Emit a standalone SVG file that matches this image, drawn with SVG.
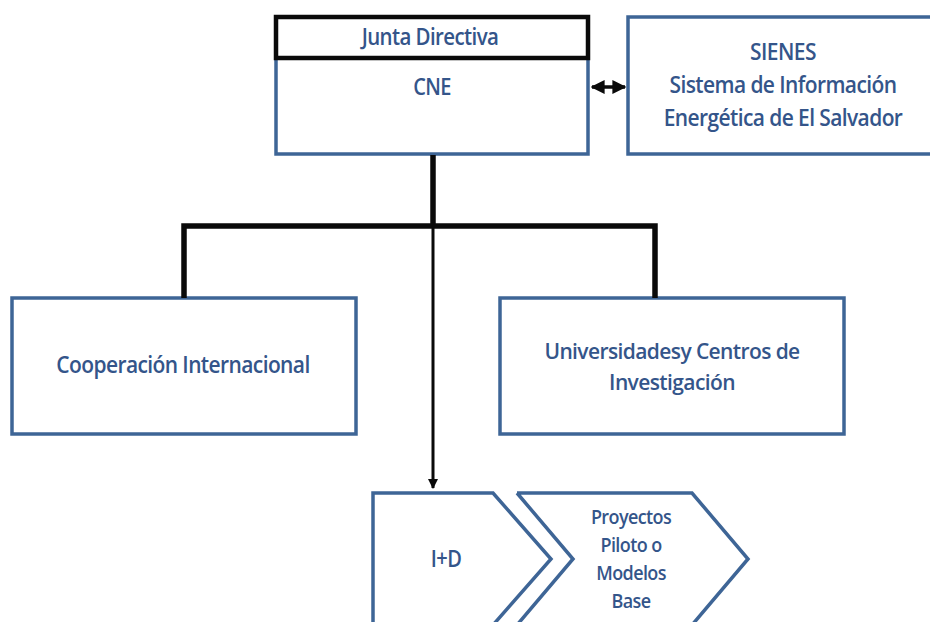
<svg xmlns="http://www.w3.org/2000/svg" width="930" height="622" viewBox="0 0 930 622">
<style>
.box{fill:#fff;stroke:#3E6596;stroke-width:3.5}
.t{font-family:"Open Sans","Liberation Sans",sans-serif;fill:#34558A;text-anchor:middle;letter-spacing:-0.6px;font-weight:600}
.conn{stroke:#0a0a0a;fill:none}
</style>
<defs>
<marker id="ah" viewBox="0 0 10 10" refX="9" refY="5" markerWidth="4" markerHeight="4" orient="auto-start-reverse" markerUnits="strokeWidth">
<path d="M0,0 L10,5 L0,10 z" fill="#0a0a0a"/>
</marker>
<marker id="ah2" viewBox="0 0 10 10" refX="9" refY="5" markerWidth="3.5" markerHeight="3.5" orient="auto-start-reverse" markerUnits="strokeWidth">
<path d="M0,0 L10,5 L0,10 z" fill="#0a0a0a"/>
</marker>
</defs>
<g id="cne">
<rect class="box" x="276" y="58" width="312" height="96"/>
<text class="t" transform="translate(432,95) scale(1,1.14)" font-size="20">CNE</text>
</g>
<g id="junta">
<rect x="276" y="17" width="312" height="41" fill="#fff" stroke="#0a0a0a" stroke-width="4.5"/>
<text class="t" transform="translate(430,45) scale(1,1.12)" font-size="20.5">Junta Directiva</text>
</g>
<g id="sienes">
<rect class="box" x="628" y="17" width="310" height="137"/>
<text class="t" transform="translate(783,60) scale(1,1.12)" font-size="21">SIENES</text>
<text class="t" transform="translate(783,93) scale(1,1.12)" font-size="21">Sistema de Información</text>
<text class="t" transform="translate(783,126) scale(1,1.12)" font-size="21">Energética de El Salvador</text>
</g>
<g id="cooperacion">
<rect class="box" x="12" y="298" width="344" height="136"/>
<text class="t" transform="translate(183,373) scale(1,1.13)" font-size="21">Cooperación Internacional</text>
</g>
<g id="universidades">
<rect class="box" x="500" y="298" width="344" height="136"/>
<text class="t" transform="translate(672,359) scale(1,1.06)" font-size="21">Universidadesy Centros de</text>
<text class="t" transform="translate(672,390) scale(1,1.06)" font-size="21">Investigación</text>
</g>
<g id="id">
<path d="M373,640 L373,493 L493,493 L551,559 L493,625" fill="#fff" stroke="#3E6596" stroke-width="3.5"/>
<text class="t" transform="translate(446,567) scale(1,1.13)" font-size="20">I+D</text>
</g>
<g id="proyectos">
<path d="M517,493 L692,493 L748,559 L692,625 M517,493 L573,559 L517,625" fill="none" stroke="#3E6596" stroke-width="3.5"/>
<text class="t" transform="translate(631,524) scale(1,1.12)" font-size="18">Proyectos</text>
<text class="t" transform="translate(631,552) scale(1,1.12)" font-size="18">Piloto o</text>
<text class="t" transform="translate(631,580) scale(1,1.12)" font-size="18">Modelos</text>
<text class="t" transform="translate(631,608) scale(1,1.12)" font-size="18">Base</text>
</g>
<g id="connectors">
<path class="conn" stroke-width="5.5" d="M433,155 L433,226 M184,298 L184,226 L655,226 L655,298"/>
<path class="conn" stroke-width="3" d="M433,226 L433,488" marker-end="url(#ah2)"/>
<path class="conn" stroke-width="3.5" d="M592,87 L625,87" marker-start="url(#ah)" marker-end="url(#ah)"/>
</g>
</svg>
